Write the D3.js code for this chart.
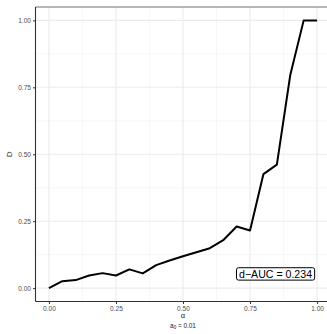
<!DOCTYPE html>
<html>
<head>
<meta charset="utf-8">
<script src="https://cdn.jsdelivr.net/npm/d3@7"></script>
<style>
  html, body { margin: 0; padding: 0; background: #fff; }
  svg { display: block; font-family: "Liberation Sans", Arial, sans-serif; }
</style>
</head>
<body>
<svg id="chart" width="327" height="334"></svg>
<script>
// Discrimination curve D over alpha
const alphaValues = [0.00, 0.05, 0.10, 0.15, 0.20, 0.25, 0.30, 0.35, 0.40, 0.45, 0.50,
                     0.55, 0.60, 0.65, 0.70, 0.75, 0.80, 0.85, 0.90, 0.95, 1.00];
const dValues = [0.000, 0.026, 0.030, 0.047, 0.056, 0.047, 0.070, 0.055, 0.086, 0.103, 0.119,
                 0.134, 0.149, 0.179, 0.230, 0.215, 0.426, 0.461, 0.796, 1.000, 1.000];
const xTicks = [0, 0.25, 0.5, 0.75, 1];
const yTicks = [0, 0.25, 0.5, 0.75, 1];
const xMinor = [0.125, 0.375, 0.625, 0.875];
const yMinor = [0.125, 0.375, 0.625, 0.875];
const aucLabel = "d\u2212AUC = 0.234";
const aucPos = [0.845, 0.053];

const svg = d3.select("#chart");
const panel = { left: 35.5, top: 7, right: 330.5, bottom: 301.5 };

// 5% padding on each side of the data range
const x = d3.scaleLinear().domain([-0.05, 1.05]).range([panel.left, panel.right]);
const y = d3.scaleLinear().domain([-0.05, 1.05]).range([panel.bottom, panel.top]);

const g = svg.append("g");

// minor grid
g.selectAll(".xminor").data(xMinor).join("line")
  .attr("x1", d => x(d)).attr("x2", d => x(d))
  .attr("y1", panel.top).attr("y2", panel.bottom)
  .attr("stroke", "#F2F2F2").attr("stroke-width", 0.6);
g.selectAll(".yminor").data(yMinor).join("line")
  .attr("y1", d => y(d)).attr("y2", d => y(d))
  .attr("x1", panel.left).attr("x2", panel.right)
  .attr("stroke", "#F2F2F2").attr("stroke-width", 0.6);
// major grid
g.selectAll(".xmajor").data(xTicks).join("line")
  .attr("x1", d => x(d)).attr("x2", d => x(d))
  .attr("y1", panel.top).attr("y2", panel.bottom)
  .attr("stroke", "#EBEBEB").attr("stroke-width", 1.1);
g.selectAll(".ymajor").data(yTicks).join("line")
  .attr("y1", d => y(d)).attr("y2", d => y(d))
  .attr("x1", panel.left).attr("x2", panel.right)
  .attr("stroke", "#EBEBEB").attr("stroke-width", 1.1);

// panel top border
g.append("line")
  .attr("x1", panel.left).attr("x2", panel.right)
  .attr("y1", panel.top).attr("y2", panel.top)
  .attr("stroke", "#6E6E6E").attr("stroke-width", 1);

// data line
const line = d3.line().x((d, i) => x(alphaValues[i])).y(d => y(d));
g.append("path")
  .datum(dValues)
  .attr("d", line)
  .attr("fill", "none")
  .attr("stroke", "#000")
  .attr("stroke-width", 2)
  .attr("stroke-linejoin", "round");

// axes
const fmt = d3.format(".2f");
const xAxis = g.append("g")
  .attr("transform", `translate(0,${panel.bottom})`)
  .call(d3.axisBottom(x).tickValues(xTicks).tickFormat(fmt).tickSize(2.5).tickPadding(2));
const yAxis = g.append("g")
  .attr("transform", `translate(${panel.left},0)`)
  .call(d3.axisLeft(y).tickValues(yTicks).tickFormat(fmt).tickSize(2.5).tickPadding(2));

[xAxis, yAxis].forEach(ax => {
  ax.select(".domain").attr("stroke", "#333").attr("stroke-width", 1.1);
  ax.selectAll(".tick line").attr("stroke", "#333").attr("stroke-width", 1);
  ax.selectAll(".tick text")
    .attr("fill", "#4D4D4D")
    .style("font-size", "6.6px")
    .style("font-family", "Liberation Sans, Arial, sans-serif");
});
xAxis.select(".domain").attr("d", `M${panel.left},0H${panel.right}`);
yAxis.select(".domain").attr("d", `M0,${panel.top}V${panel.bottom}`);

// axis titles
svg.append("text")
  .attr("x", x(0.5)).attr("y", 318)
  .attr("text-anchor", "middle")
  .attr("fill", "#1A1A1A")
  .style("font-size", "7.5px")
  .text("\u03B1");
const sub = svg.append("text")
  .attr("x", x(0.5)).attr("y", 327.5)
  .attr("text-anchor", "middle")
  .attr("fill", "#1A1A1A")
  .style("font-size", "6.4px");
sub.append("tspan").text("a");
sub.append("tspan").attr("dy", 1.8).style("font-size", "4.6px").text("0");
sub.append("tspan").attr("dy", -1.8).text(" = 0.01");

svg.append("text")
  .attr("transform", `translate(12.3,${y(0.5)}) rotate(-90)`)
  .attr("text-anchor", "middle")
  .attr("fill", "#1A1A1A")
  .style("font-size", "8px")
  .text("D");

// AUC label box
const lab = g.append("g").attr("transform", `translate(${x(aucPos[0])},${y(aucPos[1])})`);
const labText = lab.append("text")
  .attr("text-anchor", "middle")
  .attr("dy", "0.36em")
  .attr("fill", "#000")
  .style("font-size", "10.6px")
  .text(aucLabel);
const bb = labText.node().getBBox();
lab.insert("rect", "text")
  .attr("x", bb.x - 2.5).attr("y", -6.2)
  .attr("width", bb.width + 5).attr("height", 12.4)
  .attr("rx", 2).attr("ry", 2)
  .attr("fill", "#fff")
  .attr("stroke", "#000")
  .attr("stroke-width", 1);
</script>
</body>
</html>
